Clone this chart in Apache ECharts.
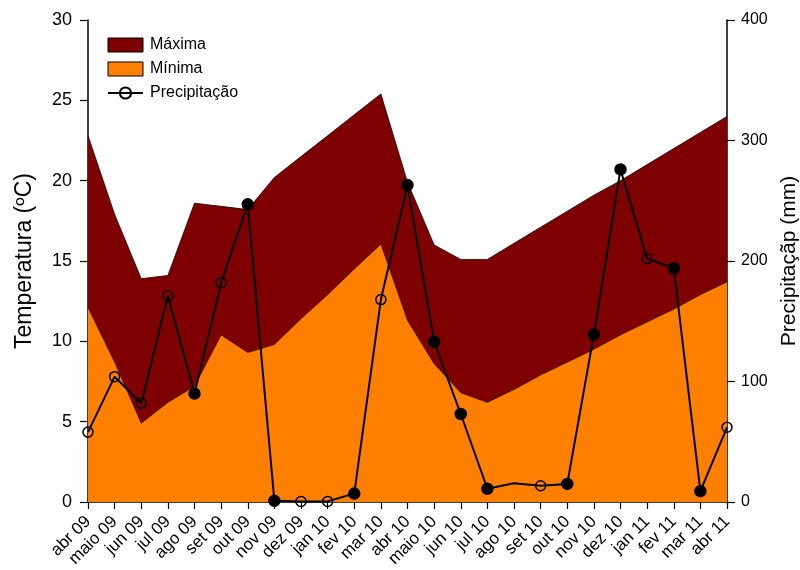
<!DOCTYPE html>
<html>
<head>
<meta charset="utf-8">
<script src="https://cdn.jsdelivr.net/npm/echarts@6/dist/echarts.min.js"></script>
<style>html,body{margin:0;padding:0;background:#fff;overflow:hidden;}#c{width:800px;height:570px;}</style>
</head>
<body>
<div id="c"></div>
<script>
const months = ['abr 09','maio 09','jun 09','jul 09','ago 09','set 09','out 09','nov 09','dez 09','jan 10','fev 10','mar 10','abr 10','maio 10','jun 10','jul 10','ago 10','set 10','out 10','nov 10','dez 10','jan 11','fev 11','mar 11','abr 11'];
const tempMax = [22.8,17.9,13.9,14.1,18.6,18.4,18.2,20.2,21.5,22.8,24.1,25.4,19.9,16.0,15.1,15.1,16.1,17.1,18.1,19.1,20.0,21.0,22.0,23.0,24.0];
const tempMin = [12.1,8.7,4.9,6.2,7.2,10.4,9.3,9.8,11.4,12.9,14.5,16.05,11.3,8.6,6.8,6.2,7.0,7.9,8.7,9.5,10.4,11.2,12.0,12.9,13.7];
const precip = [58,104,82,171,90,182,247,1,0.5,0.5,7,168,263,133,73,11,15.5,13.5,15,139,276,202,194,9,62];
// marker kind per point: o = open, f = filled, n = none
const precipMarker = ['o','o','o','o','f','o','f','f','o','o','f','o','f','f','f','f','n','o','f','f','f','o','f','f','o'];
const tempTicks = [0,5,10,15,20,25,30];
const precipTicks = [0,100,200,300,400];

const FONT = 'Liberation Sans, Arial, sans-serif';
const chart = echarts.init(document.getElementById('c'), null, {renderer:'canvas', width:800, height:570});

const precipData = precip.map((v,i)=>{
  const k = precipMarker[i];
  if (k === 'n') return {value:v, symbol:'none'};
  if (k === 'f') return {value:v, itemStyle:{color:'#000', borderColor:'#000'}, symbolSize:11};
  return {value:v};
});

chart.setOption({
  animation:false,
  backgroundColor:'#fff',
  textStyle:{fontFamily:FONT},
  grid:{left:88, right:73, top:20, bottom:68, containLabel:false, outerBoundsMode:'none'},
  legend:{
    orient:'vertical', left:107, top:37, padding:0, itemGap:8,
    itemWidth:35, itemHeight:14,
    textStyle:{fontSize:16, color:'#000', fontFamily:FONT, padding:[0,0,0,2]},
    data:[
      {name:'Máxima', icon:'rect', itemStyle:{borderColor:'#000', borderWidth:1}},
      {name:'Mínima', icon:'rect', itemStyle:{borderColor:'#000', borderWidth:1}},
      {name:'Precipitação'}
    ]
  },
  xAxis:{
    type:'category', data:months, boundaryGap:false,
    axisLine:{lineStyle:{color:'#000', width:1.5}},
    axisTick:{show:true, inside:false, length:7, interval:0, lineStyle:{color:'#000', width:1.2}},
    axisLabel:{rotate:45, interval:0, fontSize:17, color:'#000', margin:17, fontFamily:FONT},
    splitLine:{show:false}
  },
  yAxis:[
    {
      type:'value', min:tempTicks[0], max:tempTicks[tempTicks.length-1], interval:5,
      name:'Temperatura (ºC)', nameLocation:'middle', nameGap:52, nameRotate:90,
      nameTextStyle:{fontSize:23, color:'#000', fontFamily:FONT},
      axisLine:{show:true, lineStyle:{color:'#000', width:1.5}},
      axisTick:{show:true, inside:false, length:8, lineStyle:{color:'#000', width:1.2}},
      axisLabel:{fontSize:18, color:'#000', margin:16, fontFamily:FONT},
      splitLine:{show:false}
    },
    {
      type:'value', min:precipTicks[0], max:precipTicks[precipTicks.length-1], interval:100,
      position:'right',
      name:'Precipitaçãp (mm)', nameLocation:'middle', nameGap:49, nameRotate:90,
      nameTextStyle:{fontSize:21, color:'#000', fontFamily:FONT},
      axisLine:{show:true, lineStyle:{color:'#000', width:1.5}},
      axisTick:{show:true, inside:false, length:8, lineStyle:{color:'#000', width:1.2}},
      axisLabel:{fontSize:16, color:'#000', margin:14, fontFamily:FONT},
      splitLine:{show:false}
    }
  ],
  series:[
    {
      name:'Máxima', type:'line', data:tempMax, yAxisIndex:0, symbol:'none', z:1,
      itemStyle:{color:'#7F0000'},
      lineStyle:{color:'#1a0000', width:0.8},
      areaStyle:{color:'#7F0000', opacity:1}
    },
    {
      name:'Mínima', type:'line', data:tempMin, yAxisIndex:0, symbol:'none', z:2,
      itemStyle:{color:'#FF8000'},
      lineStyle:{color:'#3a1a00', width:0.8},
      areaStyle:{color:'#FF8000', opacity:1}
    },
    {
      name:'Precipitação', type:'line', data:precipData, yAxisIndex:1, z:5,
      symbol:'circle', symbolSize:10, showAllSymbol:true, clip:false,
      lineStyle:{color:'#000', width:2},
      itemStyle:{color:'rgba(0,0,0,0)', borderColor:'#000', borderWidth:1.5}
    }
  ]
});
</script>
</body>
</html>
